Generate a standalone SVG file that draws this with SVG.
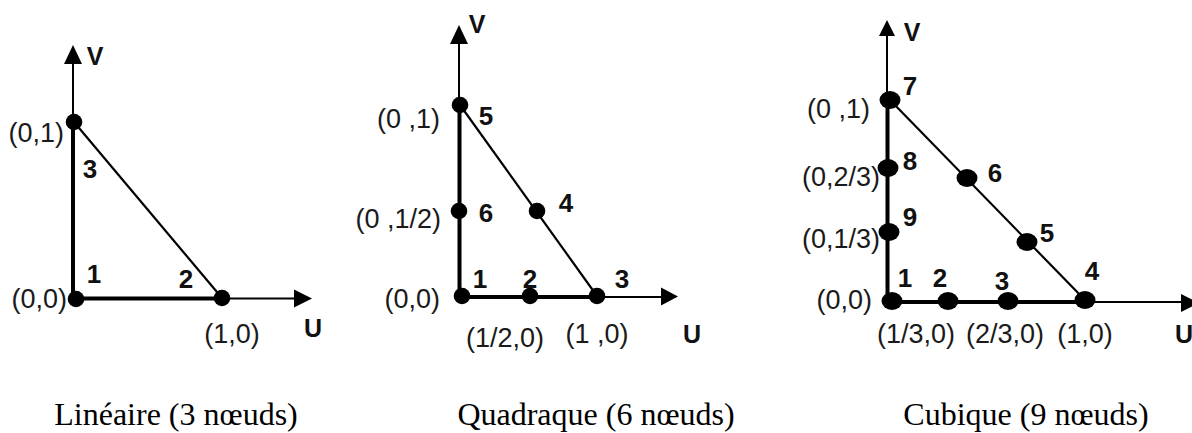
<svg xmlns="http://www.w3.org/2000/svg" width="1192" height="433" viewBox="0 0 1192 433">
<style>
.thin{stroke:#000;stroke-width:2;fill:none}
.thick{stroke:#000;stroke-width:4;fill:none}
.hyp{stroke:#000;stroke-width:2.2;fill:none}
.head{fill:#000}
.dot{fill:#000}
.coord{font-family:"Liberation Sans",Arial,sans-serif;font-size:27px;fill:#1a1a1a}
.num{font-family:"Liberation Sans",Arial,sans-serif;font-size:26px;font-weight:bold;fill:#111}
.axl{font-family:"Liberation Sans",Arial,sans-serif;font-size:25px;font-weight:bold;fill:#111}
.cap{font-family:"Liberation Serif","Times New Roman",serif;font-size:32px;fill:#000}
</style>
<rect width="1192" height="433" fill="#fff"/>
<g id="connectors">
  <!-- Panel 1 -->
  <line class="thin" x1="73" y1="60" x2="73" y2="122"/>
  <polygon class="head" points="73,45 64,64 82,64"/>
  <line class="thick" x1="73" y1="122" x2="73" y2="300"/>
  <line class="thick" x1="71" y1="298.5" x2="222" y2="298.5"/>
  <line class="thin" x1="222" y1="298.5" x2="297" y2="298.5"/>
  <polygon class="head" points="312,298.5 294,289.5 294,307.5"/>
  <line class="hyp" x1="74" y1="122" x2="222" y2="298"/>
  <!-- Panel 2 -->
  <line class="thin" x1="459" y1="40" x2="459" y2="105"/>
  <polygon class="head" points="459,25 450,44 468,44"/>
  <line class="thick" x1="459.5" y1="105" x2="459.5" y2="298"/>
  <line class="thick" x1="458" y1="297" x2="597" y2="297"/>
  <line class="thin" x1="597" y1="297" x2="664" y2="297"/>
  <polygon class="head" points="678,296.5 661,287.5 661,305.5"/>
  <line class="hyp" x1="460" y1="105" x2="597" y2="296"/>
  <!-- Panel 3 -->
  <line class="thin" x1="887" y1="33" x2="887" y2="100"/>
  <polygon class="head" points="887,20 879,36 895,36"/>
  <line class="thick" x1="887.5" y1="100" x2="887.5" y2="303"/>
  <line class="thick" x1="886" y1="302" x2="1085" y2="302"/>
  <line class="thin" x1="1085" y1="302" x2="1185" y2="302"/>
  <polygon class="head" points="1199,303 1181,294 1181,312"/>
  <line class="hyp" x1="890" y1="100" x2="1085" y2="300"/>
</g>

<!-- Panel 1 nodes -->
<g id="p1-node1"><circle class="dot" cx="76" cy="299" r="8.3"/><text class="num" x="94" y="283" text-anchor="middle">1</text><text class="coord" x="67" y="308" text-anchor="end">(0,0)</text></g>
<g id="p1-node2"><circle class="dot" cx="222" cy="298" r="8.3"/><text class="num" x="186" y="288" text-anchor="middle">2</text><text class="coord" x="232" y="343" text-anchor="middle">(1,0)</text></g>
<g id="p1-node3"><circle class="dot" cx="74" cy="122" r="8.3"/><text class="num" x="90" y="178" text-anchor="middle">3</text><text class="coord" x="64" y="142" text-anchor="end">(0,1)</text></g>
<g id="p1-axes"><text class="axl" x="95" y="65" text-anchor="middle">V</text><text class="axl" x="313" y="337" text-anchor="middle">U</text></g>
<g id="p1-caption"><text class="cap" x="176" y="425" text-anchor="middle">Linéaire (3 nœuds)</text></g>

<!-- Panel 2 nodes -->
<g id="p2-node1"><circle class="dot" cx="462" cy="296" r="8.3"/><text class="num" x="480" y="288" text-anchor="middle">1</text><text class="coord" x="440" y="308" text-anchor="end">(0,0)</text></g>
<g id="p2-node2"><circle class="dot" cx="530" cy="296" r="8.3"/><text class="num" x="530" y="288" text-anchor="middle">2</text><text class="coord" x="505" y="347" text-anchor="middle">(1/2,0)</text></g>
<g id="p2-node3"><circle class="dot" cx="597" cy="296" r="8.3"/><text class="num" x="622" y="288" text-anchor="middle">3</text><text class="coord" x="597" y="343" text-anchor="middle">(1 ,0)</text></g>
<g id="p2-node4"><circle class="dot" cx="537" cy="211" r="8.3"/><text class="num" x="566" y="212" text-anchor="middle">4</text></g>
<g id="p2-node5"><circle class="dot" cx="460" cy="105" r="8.3"/><text class="num" x="486" y="125" text-anchor="middle">5</text><text class="coord" x="440" y="128" text-anchor="end">(0 ,1)</text></g>
<g id="p2-node6"><circle class="dot" cx="459" cy="211" r="8.3"/><text class="num" x="486" y="222" text-anchor="middle">6</text><text class="coord" x="441" y="228" text-anchor="end">(0 ,1/2)</text></g>
<g id="p2-axes"><text class="axl" x="477" y="33" text-anchor="middle">V</text><text class="axl" x="692" y="343" text-anchor="middle">U</text></g>
<g id="p2-caption"><text class="cap" x="596" y="425" text-anchor="middle">Quadraque (6 nœuds)</text></g>

<!-- Panel 3 nodes -->
<g id="p3-node1"><ellipse class="dot" cx="892" cy="301" rx="10.5" ry="9"/><text class="num" x="905" y="287" text-anchor="middle">1</text><text class="coord" x="872" y="309" text-anchor="end">(0,0)</text></g>
<g id="p3-node2"><ellipse class="dot" cx="948" cy="301" rx="10.5" ry="9"/><text class="num" x="940" y="287" text-anchor="middle">2</text><text class="coord" x="916" y="343" text-anchor="middle">(1/3,0)</text></g>
<g id="p3-node3"><ellipse class="dot" cx="1008" cy="301" rx="10.5" ry="9"/><text class="num" x="1002" y="290" text-anchor="middle">3</text><text class="coord" x="1005" y="343" text-anchor="middle">(2/3,0)</text></g>
<g id="p3-node4"><ellipse class="dot" cx="1085" cy="300" rx="10.5" ry="9"/><text class="num" x="1092" y="280" text-anchor="middle">4</text><text class="coord" x="1085" y="343" text-anchor="middle">(1,0)</text></g>
<g id="p3-node5"><ellipse class="dot" cx="1027" cy="242" rx="10.5" ry="9"/><text class="num" x="1047" y="242" text-anchor="middle">5</text></g>
<g id="p3-node6"><ellipse class="dot" cx="967" cy="178" rx="10.5" ry="9"/><text class="num" x="995" y="182" text-anchor="middle">6</text></g>
<g id="p3-node7"><ellipse class="dot" cx="890" cy="100" rx="10.5" ry="9"/><text class="num" x="910" y="95" text-anchor="middle">7</text><text class="coord" x="870" y="118" text-anchor="end">(0 ,1)</text></g>
<g id="p3-node8"><ellipse class="dot" cx="888" cy="168" rx="10.5" ry="9"/><text class="num" x="910" y="170" text-anchor="middle">8</text><text class="coord" x="880" y="186" text-anchor="end">(0,2/3)</text></g>
<g id="p3-node9"><ellipse class="dot" cx="889" cy="232" rx="10.5" ry="9"/><text class="num" x="910" y="226" text-anchor="middle">9</text><text class="coord" x="880" y="248" text-anchor="end">(0,1/3)</text></g>
<g id="p3-axes"><text class="axl" x="912" y="41" text-anchor="middle">V</text><text class="axl" x="1175" y="343">U</text></g>
<g id="p3-caption"><text class="cap" x="1026" y="425" text-anchor="middle">Cubique (9 nœuds)</text></g>
</svg>
